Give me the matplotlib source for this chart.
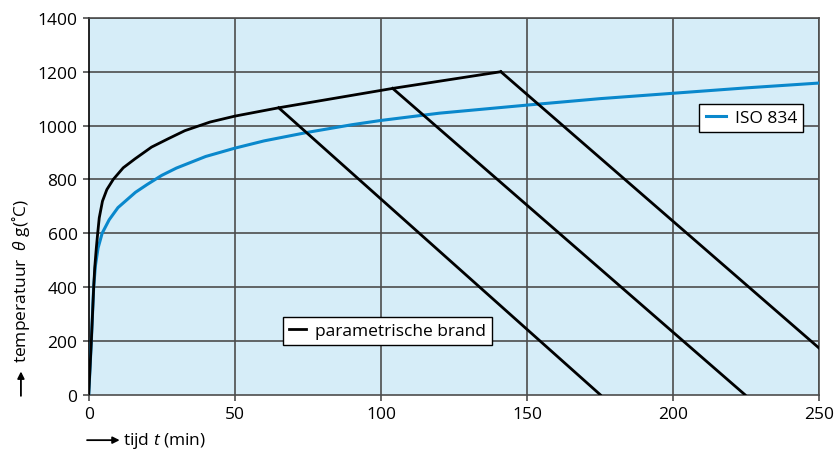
import matplotlib.pyplot as plt

plt.rcParams["font.family"] = ["Open Sans", "DejaVu Sans"]
plt.rcParams["mathtext.fontset"] = "custom"
plt.rcParams["mathtext.it"] = "Open Sans:italic"
plt.rcParams["mathtext.rm"] = "Open Sans"

# ISO 834 standard curve
iso_t = [0, 0.9, 1.7, 2.3, 3.2, 4.6, 7, 10, 16, 20, 25, 30, 40, 50, 60, 75, 90, 100,
         120, 150, 175, 200, 225, 250]
iso_temp = [0, 200, 400, 480, 545, 600, 650, 695, 752, 781, 815, 842, 885,
            916, 943, 975, 1003, 1019, 1046, 1076, 1100, 1120, 1140, 1158]

# parametric fire, heating branch
heat_t = [0, 0.9, 1.7, 2.05, 2.6, 3.07, 3.6, 4.7, 6.2, 8.4, 11.8, 15.8,
          21.5, 27.2, 32.9, 41.5, 50, 65, 104, 141]
heat_temp = [0, 200, 400, 471, 545, 600, 657, 719, 762, 800, 843, 876,
             920, 951, 981, 1013, 1035, 1066, 1138, 1200]

# parametric fire, cooling branches (start -> end)
cool_t = [[65, 175], [104, 224.5], [141, 250]]
cool_temp = [[1066, 0], [1138, 0], [1200, 172]]

fig = plt.figure(figsize=(8.37, 4.52), dpi=100)
ax = fig.add_axes([0.106, 0.1246, 0.873, 0.8336])
ax.set_facecolor("#d6edf8")

for y in range(200, 1401, 200):
    ax.axhline(y, color="#4d4d4d", lw=1.2, zorder=1)
for x in range(50, 251, 50):
    ax.axvline(x, color="#4d4d4d", lw=1.2, zorder=1)

iso_line, = ax.plot(iso_t, iso_temp, color="#0a88cc", lw=2.2, zorder=3,
                    solid_joinstyle="round")
par_line, = ax.plot(heat_t, heat_temp, color="black", lw=2, zorder=4,
                    solid_joinstyle="round")
for ct, cy in zip(cool_t, cool_temp):
    ax.plot(ct, cy, color="black", lw=2, zorder=4)

ax.set_xlim(0, 250)
ax.set_ylim(0, 1400)
ax.set_xticks(range(0, 251, 50))
ax.set_yticks(range(0, 1401, 200))
ax.tick_params(labelsize=12.5, length=4, width=1.2, color="#4d4d4d", pad=4)
for s in ["top", "right", "bottom"]:
    ax.spines[s].set_color("#4d4d4d")
    ax.spines[s].set_linewidth(1.2)
ax.spines["left"].set_color("black")
ax.spines["left"].set_linewidth(1.2)

leg1 = ax.legend([iso_line], ["ISO 834"], loc="center", bbox_to_anchor=(0.907, 0.735),
                 fontsize=12.5, fancybox=False, framealpha=1, edgecolor="black",
                 handlelength=1.2, handletextpad=0.5, borderpad=0.35)
leg1.get_frame().set_linewidth(1)
ax.add_artist(leg1)
leg2 = ax.legend([par_line], ["parametrische brand"], loc="center", bbox_to_anchor=(0.409, 0.169),
                 fontsize=12.5, fancybox=False, framealpha=1, edgecolor="black",
                 handlelength=1.0, handletextpad=0.5, borderpad=0.35)
leg2.get_frame().set_linewidth(1)
for leg in (leg1, leg2):
    leg.set_zorder(10)

# axis titles with arrows
fig.text(0.147, 0.024, "tijd $t$ (min)", fontsize=12.5, ha="left", va="center")
fig.add_artist(plt.Annotation("", xy=(0.143, 0.024), xytext=(0.104, 0.024),
                              xycoords="figure fraction",
                              arrowprops=dict(arrowstyle="-|>", color="black", lw=1.3,
                                              mutation_scale=10, shrinkA=0, shrinkB=0)))
fig.text(0.025, 0.197, "temperatuur  $\\theta$ g(\u02daC)", fontsize=12.5,
         rotation=90, ha="center", va="bottom")
fig.add_artist(plt.Annotation("", xy=(0.025, 0.176), xytext=(0.025, 0.122),
                              xycoords="figure fraction",
                              arrowprops=dict(arrowstyle="-|>", color="black", lw=1.3,
                                              mutation_scale=10, shrinkA=0, shrinkB=0)))

fig.savefig("out.png", dpi=100)
